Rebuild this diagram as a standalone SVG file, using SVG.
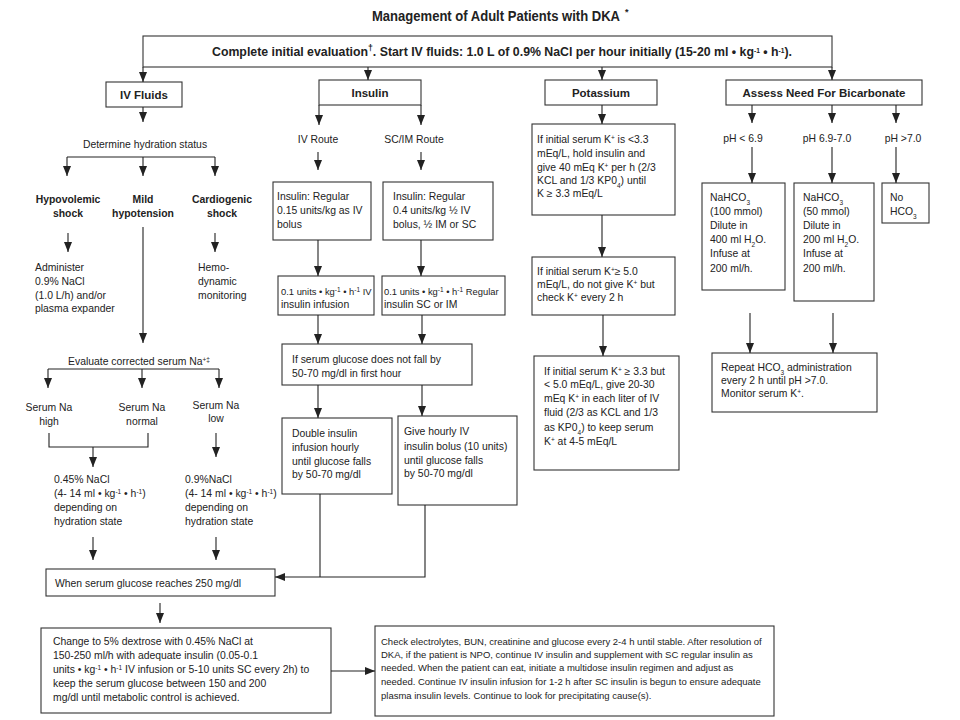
<svg xmlns="http://www.w3.org/2000/svg" width="960" height="720" viewBox="0 0 960 720">
<style>
text{font-family:"Liberation Sans",Arial,sans-serif;font-size:10.4px;fill:#222}
.b{font-weight:bold}
.h{font-weight:bold;font-size:11.5px}
.c{text-anchor:middle}
.sm{font-size:9.5px}
.xs{font-size:9.4px}
.tt{font-size:14px}
.st{font-size:12px}
.sup{font-size:6.5px;baseline-shift:super}
.supl{font-size:8.5px;baseline-shift:super}
.sub{font-size:6.5px;baseline-shift:sub}
.box{fill:#fff;stroke:#333;stroke-width:1.1}
.ln{fill:none;stroke:#222;stroke-width:1.1}
.ar{fill:none;stroke:#222;stroke-width:1.1;marker-end:url(#ah)}
</style>
<defs>
<marker id="ah" markerUnits="userSpaceOnUse" markerWidth="10" markerHeight="8" refX="10" refY="4" orient="auto"><path d="M0,0 L10,4 L0,8 z" fill="#222"/></marker>
</defs>
<rect width="960" height="720" fill="#fff"/>

<g id="title"><text class="b tt" x="372" y="21" textLength="248" lengthAdjust="spacingAndGlyphs">Management of Adult Patients with DKA</text><text class="b" x="625" y="15" style="font-size:9px">*</text></g>

<g id="start"><rect class="box" x="143" y="36" width="689" height="31"/>
<text class="b st" x="212" y="56" textLength="580" lengthAdjust="spacingAndGlyphs">Complete initial evaluation<tspan class="supl">†</tspan>.  Start IV fluids: 1.0 L of 0.9% NaCl per hour initially (15-20 ml • kg<tspan class="sup">-1</tspan> • h<tspan class="sup">-1</tspan>).</text></g>

<g id="ivfluids"><rect class="box" x="106" y="82" width="76" height="25"/><text class="h c" x="144" y="99">IV Fluids</text></g>
<g id="hydration"><text class="c" x="145" y="148">Determine hydration status</text></g>
<g id="hypovolemic"><text class="b c" x="68" y="203">Hypovolemic</text><text class="b c" x="68" y="217">shock</text></g>
<g id="mild"><text class="b c" x="143" y="203">Mild</text><text class="b c" x="143" y="217">hypotension</text></g>
<g id="cardiogenic"><text class="b c" x="222" y="203">Cardiogenic</text><text class="b c" x="222" y="217">shock</text></g>
<g id="administer"><text x="35" y="271">Administer</text><text x="35" y="285">0.9% NaCl</text><text x="35" y="299">(1.0 L/h) and/or</text><text x="35" y="312">plasma expander</text></g>
<g id="hemo"><text x="198" y="271">Hemo-</text><text x="198" y="285">dynamic</text><text x="198" y="299">monitoring</text></g>
<g id="evaluate"><text class="c" x="139" y="365">Evaluate corrected serum Na<tspan class="sup">+‡</tspan></text></g>
<g id="nahigh"><text class="c" x="49" y="411">Serum Na</text><text class="c" x="49" y="425">high</text></g>
<g id="nanormal"><text class="c" x="142" y="411">Serum Na</text><text class="c" x="142" y="425">normal</text></g>
<g id="nalow"><text class="c" x="216" y="409">Serum Na</text><text class="c" x="216" y="422">low</text></g>
<g id="nacl045"><text x="54" y="483">0.45% NaCl</text><text x="54" y="497">(4- 14 ml • kg<tspan class="sup">-1</tspan> • h<tspan class="sup">-1</tspan>)</text><text x="54" y="511">depending on</text><text x="54" y="525">hydration state</text></g>
<g id="nacl09"><text x="185" y="483">0.9%NaCl</text><text x="185" y="497">(4- 14 ml • kg<tspan class="sup">-1</tspan> • h<tspan class="sup">-1</tspan>)</text><text x="185" y="511">depending on</text><text x="185" y="525">hydration state</text></g>
<g id="glucose250"><rect class="box" x="46" y="569" width="229" height="27"/><text x="55" y="587">When serum glucose reaches 250 mg/dl</text></g>
<g id="dextrose"><rect class="box" x="41" y="628" width="290" height="85"/>
<text x="53" y="645">Change to 5% dextrose with 0.45% NaCl at</text>
<text x="53" y="659">150-250 ml/h with adequate insulin (0.05-0.1</text>
<text x="53" y="673">units • kg<tspan class="sup">-1</tspan> • h<tspan class="sup">-1</tspan> IV infusion or 5-10 units SC every 2h) to</text>
<text x="53" y="687">keep the serum glucose between 150 and 200</text>
<text x="53" y="701">mg/dl until metabolic control is achieved.</text></g>
<g id="check"><rect class="box" x="375" y="626" width="399" height="90"/>
<text class="sm" x="381" y="645">Check electrolytes, BUN, creatinine and glucose every 2-4 h until stable. After resolution of</text>
<text class="sm" x="381" y="658">DKA, if the patient is NPO, continue IV insulin and supplement with SC regular insulin as</text>
<text class="sm" x="381" y="671">needed.  When the patient can eat, initiate a multidose insulin regimen and adjust as</text>
<text class="sm" x="381" y="685">needed.  Continue IV insulin infusion for 1-2 h after SC insulin is begun to ensure adequate</text>
<text class="sm" x="381" y="699">plasma insulin levels.  Continue to look for precipitating cause(s).</text></g>

<g id="insulin"><rect class="box" x="319" y="80" width="102" height="25"/><text class="h c" x="370" y="97">Insulin</text></g>
<g id="ivroute"><text class="c" x="318" y="143">IV Route</text></g>
<g id="scimroute"><text class="c" x="414" y="143">SC/IM Route</text></g>
<g id="bolusiv"><rect class="box" x="273" y="182" width="98" height="58"/><text x="277" y="200">Insulin: Regular</text><text x="277" y="214">0.15 units/kg as IV</text><text x="277" y="228">bolus</text></g>
<g id="bolussc"><rect class="box" x="383" y="182" width="110" height="58"/><text x="393" y="200">Insulin: Regular</text><text x="393" y="214">0.4 units/kg ½ IV</text><text x="393" y="228">bolus, ½ IM or SC</text></g>
<g id="infusioniv"><rect class="box" x="278" y="276" width="96" height="39"/><text class="xs" x="281" y="295">0.1 units • kg<tspan class="sup">-1</tspan> • h<tspan class="sup">-1</tspan> IV</text><text x="281" y="308">insulin infusion</text></g>
<g id="infusionsc"><rect class="box" x="382" y="276" width="123" height="39"/><text class="xs" x="384" y="295">0.1 units • kg<tspan class="sup">-1</tspan> • h<tspan class="sup">-1</tspan> Regular</text><text x="384" y="308">insulin SC or IM</text></g>
<g id="nofall"><rect class="box" x="282" y="344" width="190" height="41"/><text x="292" y="363">If serum glucose does not fall by</text><text x="292" y="377">50-70 mg/dl in first hour</text></g>
<g id="double"><rect class="box" x="282" y="418" width="110" height="76"/><text x="292" y="437">Double insulin</text><text x="292" y="451">infusion hourly</text><text x="292" y="465">until glucose falls</text><text x="292" y="478">by 50-70 mg/dl</text></g>
<g id="hourly"><rect class="box" x="398" y="416" width="119" height="89"/><text x="404" y="435">Give hourly IV</text><text x="404" y="450">insulin bolus (10 units)</text><text x="404" y="464">until glucose falls</text><text x="404" y="477">by 50-70 mg/dl</text></g>

<g id="potassium"><rect class="box" x="545" y="80" width="112" height="25"/><text class="h c" x="601" y="97">Potassium</text></g>
<g id="k1"><rect class="box" x="532" y="124" width="143" height="91"/>
<text x="537" y="143">If initial serum K<tspan class="sup">+</tspan> is &lt;3.3</text>
<text x="537" y="157">mEq/L, hold insulin and</text>
<text x="537" y="171">give 40 mEq K<tspan class="sup">+</tspan> per h (2/3</text>
<text x="537" y="184">KCL and 1/3 KP0<tspan class="sub">4</tspan>) until</text>
<text x="537" y="197">K ≥ 3.3 mEq/L</text></g>
<g id="k2"><rect class="box" x="532" y="257" width="143" height="58"/>
<text x="537" y="275">If initial serum K<tspan class="sup">+</tspan>≥ 5.0</text>
<text x="537" y="288">mEq/L, do not give K<tspan class="sup">+</tspan> but</text>
<text x="537" y="301">check K<tspan class="sup">+</tspan> every 2 h</text></g>
<g id="k3"><rect class="box" x="534" y="356" width="145" height="114"/>
<text x="544" y="375">If initial serum K<tspan class="sup">+</tspan> ≥ 3.3 but</text>
<text x="544" y="388">&lt; 5.0 mEq/L, give 20-30</text>
<text x="544" y="402">mEq K<tspan class="sup">+</tspan> in each liter of IV</text>
<text x="544" y="416">fluid (2/3 as KCL and 1/3</text>
<text x="544" y="431">as KP0<tspan class="sub">4</tspan>) to keep serum</text>
<text x="544" y="445">K<tspan class="sup">+</tspan> at 4-5 mEq/L</text></g>

<g id="bicarb"><rect class="box" x="726" y="80" width="196" height="25"/><text class="h c" x="824" y="97">Assess Need For Bicarbonate</text></g>
<g id="ph1"><text class="c" x="743" y="142">pH &lt; 6.9</text></g>
<g id="ph2"><text class="c" x="827" y="142">pH 6.9-7.0</text></g>
<g id="ph3"><text class="c" x="903" y="142">pH &gt;7.0</text></g>
<g id="hco100"><rect class="box" x="702" y="183" width="83" height="107"/>
<text x="710" y="201">NaHCO<tspan class="sub">3</tspan></text><text x="710" y="215">(100 mmol)</text><text x="710" y="229">Dilute in</text><text x="710" y="243">400 ml H<tspan class="sub">2</tspan>O.</text><text x="710" y="257">Infuse at</text><text x="710" y="272">200 ml/h.</text></g>
<g id="hco50"><rect class="box" x="794" y="183" width="80" height="118"/>
<text x="803" y="201">NaHCO<tspan class="sub">3</tspan></text><text x="803" y="215">(50 mmol)</text><text x="803" y="229">Dilute in</text><text x="803" y="243">200 ml H<tspan class="sub">2</tspan>O.</text><text x="803" y="257">Infuse at</text><text x="803" y="272">200 ml/h.</text></g>
<g id="nohco"><rect class="box" x="882" y="183" width="47" height="40"/><text x="890" y="201">No</text><text x="890" y="215">HCO<tspan class="sub">3</tspan></text></g>
<g id="repeat"><rect class="box" x="712" y="353" width="165" height="59"/>
<text x="721" y="371">Repeat HCO<tspan class="sub">3</tspan> administration</text><text x="721" y="384">every 2 h until pH &gt;7.0.</text><text x="721" y="397">Monitor serum K<tspan class="sup">+</tspan>.</text></g>

<g id="connectors">
<path class="ar" d="M143,67 V82"/>
<path class="ar" d="M368,67 V80"/>
<path class="ar" d="M602,67 V80"/>
<path class="ar" d="M832,67 V80"/>
<path class="ar" d="M143,107 V122"/>
<path class="ln" d="M67,157 H215"/>
<path class="ar" d="M67,157 V176"/>
<path class="ar" d="M143,157 V176"/>
<path class="ar" d="M215,157 V176"/>
<path class="ar" d="M68,233 V252"/>
<path class="ar" d="M215,233 V252"/>
<path class="ar" d="M143,227 V343"/>
<path class="ln" d="M48,369 H219"/>
<path class="ar" d="M48,369 V388"/>
<path class="ar" d="M142,369 V388"/>
<path class="ar" d="M219,369 V388"/>
<path class="ln" d="M49,433 V447 H148 V433"/>
<path class="ar" d="M93,447 V467"/>
<path class="ar" d="M216,433 V457"/>
<path class="ar" d="M93,537 V560"/>
<path class="ar" d="M216,537 V560"/>
<path class="ar" d="M160,603 V623"/>
<path class="ar" d="M331,671 H375"/>
<path class="ar" d="M319,105 V125"/>
<path class="ar" d="M421,105 V125"/>
<path class="ar" d="M318,152 V170"/>
<path class="ar" d="M421,152 V170"/>
<path class="ar" d="M318,240 V276"/>
<path class="ar" d="M421,240 V276"/>
<path class="ar" d="M318,315 V344"/>
<path class="ar" d="M422,315 V344"/>
<path class="ar" d="M318,385 V418"/>
<path class="ar" d="M422,385 V416"/>
<path class="ln" d="M320,494 V577"/>
<path class="ar" d="M425,505 V577 H275"/>
<path class="ar" d="M602,105 V124"/>
<path class="ar" d="M602,215 V257"/>
<path class="ar" d="M603,315 V356"/>
<path class="ar" d="M752,105 V123"/>
<path class="ar" d="M832,105 V123"/>
<path class="ar" d="M896,105 V123"/>
<path class="ar" d="M752,147 V183"/>
<path class="ar" d="M832,147 V183"/>
<path class="ar" d="M896,147 V183"/>
<path class="ar" d="M750,313 V353"/>
<path class="ar" d="M833,313 V353"/>
</g>
</svg>
